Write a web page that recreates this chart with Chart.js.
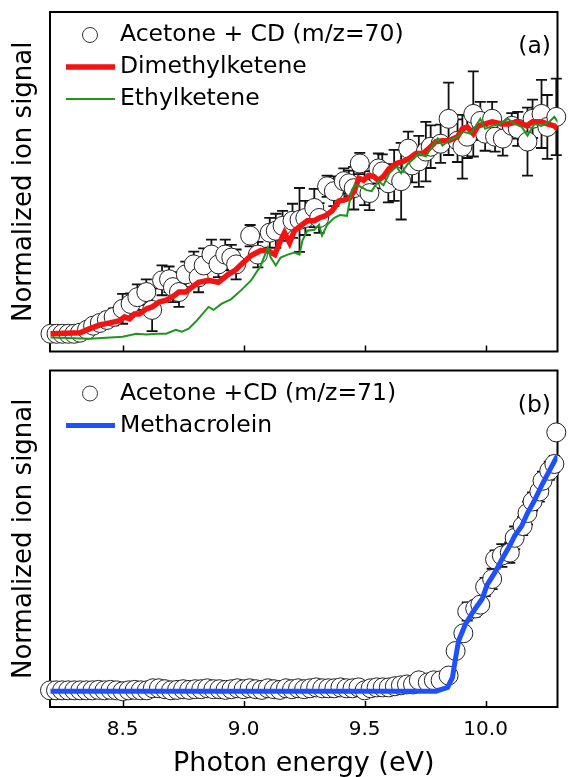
<!DOCTYPE html>
<html>
<head>
<meta charset="utf-8">
<script src="https://cdn.jsdelivr.net/npm/chart.js@4.4.1/dist/chart.umd.min.js"></script>
<style>
  html, body { margin: 0; padding: 0; background: #fff; }
  #wrap { position: relative; width: 568px; height: 777px; }
  .panel { position: absolute; left: 0; width: 568px; }
  #pa { top: 0; height: 362px; }
  #pb { top: 360px; height: 417px; }
</style>
</head>
<body>
<div id="wrap">
  <div class="panel" id="pa"><canvas id="chartA"></canvas></div>
  <div class="panel" id="pb"><canvas id="chartB"></canvas></div>
</div>
<script>
// x axis
const xTicks = [8.5, 9.0, 9.5, 10.0];

// (a) m/z=70 measurement
const energyA = [8.202, 8.227, 8.251, 8.276, 8.300, 8.324, 8.353, 8.378, 8.406, 8.435, 8.463, 8.500, 8.533, 8.561, 8.598,
  8.622, 8.663, 8.692, 8.708, 8.733, 8.761, 8.794, 8.814, 8.835, 8.867, 8.896, 8.924, 8.949, 8.969, 9.027,
  9.059, 9.108, 9.133, 9.161, 9.202, 9.231, 9.255, 9.292, 9.312, 9.345, 9.373, 9.414, 9.435, 9.455, 9.480,
  9.500, 9.520, 9.557, 9.573, 9.598, 9.622, 9.651, 9.680, 9.696, 9.724, 9.753, 9.773, 9.814, 9.847, 9.884,
  9.904, 9.924, 9.949, 9.978, 9.998, 10.027, 10.039, 10.071, 10.108, 10.133, 10.173, 10.194, 10.231, 10.255, 10.292];
const signalA = [0.009, 0.009, 0.009, 0.009, 0.009, 0.014, 0.028, 0.047, 0.060, 0.074, 0.088, 0.126, 0.149, 0.181, 0.205,
  0.121, 0.260, 0.265, 0.228, 0.205, 0.288, 0.335, 0.274, 0.330, 0.381, 0.335, 0.381, 0.367, 0.335, 0.470,
  0.381, 0.484, 0.493, 0.516, 0.540, 0.544, 0.553, 0.600, 0.553, 0.702, 0.679, 0.726, 0.716, 0.693, 0.809,
  0.693, 0.670, 0.786, 0.772, 0.716, 0.753, 0.726, 0.879, 0.800, 0.819, 0.865, 0.888, 0.902, 1.019, 0.916,
  0.888, 0.935, 1.042, 1.009, 0.949, 1.019, 0.935, 0.926, 0.986, 0.972, 0.912, 1.019, 1.042, 0.981, 1.028];
const errorA = [0.01, 0.01, 0.01, 0.01, 0.01, 0.015, 0.02, 0.025, 0.03, 0.035, 0.04, 0.07, 0.05, 0.06, 0.06,
  0.10, 0.07, 0.06, 0.07, 0.07, 0.06, 0.06, 0.07, 0.08, 0.07, 0.06, 0.07, 0.06, 0.07, 0.05,
  0.06, 0.07, 0.08, 0.07, 0.08, 0.15, 0.08, 0.09, 0.07, 0.05, 0.07, 0.06, 0.06, 0.10, 0.05,
  0.08, 0.08, 0.07, 0.08, 0.09, 0.12, 0.18, 0.08, 0.08, 0.12, 0.14, 0.10, 0.09, 0.17, 0.10,
  0.15, 0.10, 0.20, 0.09, 0.08, 0.08, 0.07, 0.08, 0.06, 0.08, 0.16, 0.09, 0.16, 0.15, 0.18];

// (a) Dimethylketene
const energyDMK = [8.202, 8.324, 8.365, 8.406, 8.447, 8.488, 8.508, 8.529, 8.549, 8.569, 8.598, 8.622, 8.651, 8.680, 8.704,
  8.733, 8.761, 8.786, 8.814, 8.855, 8.896, 8.937, 8.965, 8.990, 9.031, 9.071, 9.100, 9.129, 9.149, 9.169,
  9.190, 9.210, 9.235, 9.263, 9.292, 9.312, 9.337, 9.365, 9.394, 9.414, 9.439, 9.459, 9.476, 9.496, 9.516,
  9.537, 9.557, 9.578, 9.602, 9.631, 9.659, 9.684, 9.712, 9.741, 9.765, 9.794, 9.822, 9.847, 9.884, 9.904,
  9.924, 9.949, 9.969, 9.998, 10.027, 10.067, 10.092, 10.133, 10.169, 10.194, 10.231, 10.255, 10.284, 10.296];
const signalDMK = [0.009, 0.014, 0.033, 0.051, 0.060, 0.070, 0.088, 0.079, 0.102, 0.102, 0.126, 0.135, 0.158, 0.167, 0.181,
  0.205, 0.205, 0.228, 0.251, 0.260, 0.251, 0.288, 0.307, 0.335, 0.377, 0.400, 0.400, 0.381, 0.437, 0.484,
  0.437, 0.493, 0.516, 0.540, 0.540, 0.553, 0.563, 0.586, 0.633, 0.637, 0.647, 0.684, 0.740, 0.730, 0.753,
  0.749, 0.730, 0.749, 0.786, 0.809, 0.819, 0.833, 0.856, 0.856, 0.879, 0.912, 0.916, 0.916, 0.935, 0.972,
  0.981, 0.949, 0.986, 0.995, 1.005, 0.995, 0.995, 1.005, 0.986, 1.005, 1.005, 0.995, 0.986, 0.972];

// (a) Ethylketene
const energyEK = [8.202, 8.365, 8.500, 8.557, 8.598, 8.639, 8.680, 8.720, 8.745, 8.773, 8.802, 8.827, 8.855, 8.876, 8.908,
  8.949, 8.990, 9.031, 9.071, 9.100, 9.112, 9.133, 9.153, 9.182, 9.210, 9.231, 9.243, 9.263, 9.292, 9.312,
  9.324, 9.345, 9.373, 9.398, 9.427, 9.447, 9.459, 9.480, 9.508, 9.529, 9.557, 9.578, 9.602, 9.631, 9.651,
  9.680, 9.704, 9.724, 9.753, 9.773, 9.802, 9.822, 9.847, 9.884, 9.908, 9.937, 9.957, 9.978, 9.998, 10.027,
  10.059, 10.092, 10.120, 10.149, 10.173, 10.202, 10.231, 10.263, 10.284, 10.304];
const signalEK = [-0.009, -0.014, -0.005, 0.009, 0.005, 0.009, 0.009, 0.028, 0.019, 0.033, 0.065, 0.098, 0.135, 0.121, 0.149,
  0.172, 0.214, 0.260, 0.330, 0.414, 0.367, 0.330, 0.367, 0.381, 0.391, 0.381, 0.447, 0.493, 0.498, 0.521,
  0.470, 0.521, 0.553, 0.567, 0.563, 0.684, 0.707, 0.702, 0.684, 0.679, 0.726, 0.707, 0.763, 0.795, 0.763,
  0.809, 0.833, 0.856, 0.842, 0.879, 0.926, 0.893, 0.916, 0.935, 0.958, 0.949, 0.981, 1.019, 0.972, 0.986,
  0.995, 1.019, 0.995, 0.981, 0.940, 0.995, 0.986, 1.005, 1.028, 0.995];

// (b) m/z=71 measurement
const energyB = [8.200, 8.225, 8.250, 8.275, 8.300, 8.325, 8.350, 8.375, 8.400, 8.425, 8.450, 8.475, 8.500, 8.525, 8.550,
  8.575, 8.600, 8.625, 8.650, 8.675, 8.700, 8.725, 8.750, 8.775, 8.800, 8.825, 8.850, 8.875, 8.900, 8.925,
  8.950, 8.975, 9.000, 9.025, 9.050, 9.075, 9.100, 9.125, 9.150, 9.175, 9.200, 9.225, 9.250, 9.275, 9.300,
  9.325, 9.350, 9.375, 9.400, 9.425, 9.450, 9.475, 9.500, 9.525, 9.550, 9.575, 9.600, 9.625, 9.650, 9.675,
  9.700, 9.724, 9.761, 9.786, 9.814, 9.847, 9.876, 9.908, 9.924, 9.957, 9.978, 9.998, 10.027, 10.039, 10.067,
  10.100, 10.120, 10.153, 10.173, 10.194, 10.222, 10.235, 10.263, 10.284, 10.292];
const signalB = [0.004, 0.004, 0.004, 0.004, 0.004, 0.004, 0.004, 0.004, 0.006, 0.004, 0.006, 0.004, 0.000, 0.004, 0.006,
  0.004, 0.004, 0.013, 0.013, 0.009, 0.004, 0.006, 0.009, 0.006, 0.009, 0.009, 0.013, 0.009, 0.009, 0.006,
  0.009, 0.013, 0.009, 0.013, 0.009, 0.006, 0.013, 0.009, 0.006, 0.013, 0.009, 0.013, 0.009, 0.013, 0.017,
  0.013, 0.013, 0.013, 0.017, 0.013, 0.013, 0.017, 0.004, 0.013, 0.017, 0.017, 0.017, 0.022, 0.026, 0.030,
  0.030, 0.048, 0.039, 0.048, 0.048, 0.069, 0.177, 0.255, 0.351, 0.364, 0.381, 0.459, 0.494, 0.580, 0.597,
  0.610, 0.675, 0.727, 0.784, 0.835, 0.879, 0.926, 0.970, 1.000, 1.139];
const errorB = [0, 0, 0, 0, 0, 0, 0, 0, 0, 0, 0, 0, 0, 0, 0,
  0, 0, 0, 0, 0, 0, 0, 0, 0, 0, 0, 0, 0, 0, 0,
  0, 0, 0, 0, 0, 0, 0, 0, 0, 0, 0, 0, 0, 0, 0,
  0, 0, 0, 0, 0, 0, 0, 0, 0, 0, 0, 0, 0, 0, 0,
  0, 0.01, 0.01, 0.01, 0.01, 0.015, 0.02, 0.03, 0.04, 0.035, 0.03, 0.04, 0.045, 0.04, 0.05,
  0.045, 0.05, 0.04, 0.05, 0.04, 0.045, 0.04, 0.04, 0.035, 0];

// (b) Methacrolein
const energyMA = [8.202, 9.794, 9.843, 9.863, 9.876, 9.888, 9.916, 9.949, 9.986, 10.006, 10.039, 10.067, 10.100, 10.120,
  10.149, 10.173, 10.202, 10.235, 10.263, 10.296];
const signalMA = [0, 0, 0.017, 0.061, 0.147, 0.221, 0.294, 0.351, 0.407, 0.468, 0.524, 0.580, 0.641, 0.684,
  0.727, 0.784, 0.840, 0.913, 0.970, 1.035];

const FONT = "'DejaVu Sans', sans-serif";
Chart.defaults.font.family = FONT;
Chart.defaults.color = '#000';

function toPoints(xs, ys) {
    return xs.map((x, i) => ({ x: x, y: ys[i] }));
}

// ramka, znaczniki osi, słupki błędów (pod punktami)
const panelPlugin = {
    id: 'panel',
    beforeDatasetsDraw(chart) {
        const ctx = chart.ctx;
        const area = chart.chartArea;
        const xs = chart.scales.x, ys = chart.scales.y;
        ctx.save();
        ctx.strokeStyle = '#000';
        ctx.lineWidth = 2;
        ctx.strokeRect(area.left, area.top, area.right - area.left, area.bottom - area.top);
        ctx.lineWidth = 1.5;
        ctx.beginPath();
        xTicks.forEach(v => {
            const px = Math.round(xs.getPixelForValue(v)) + 0.5;
            ctx.moveTo(px, area.bottom);
            ctx.lineTo(px, area.bottom - 6);
        });
        ctx.stroke();

        ctx.lineWidth = 1.8;
        ctx.strokeStyle = '#111';
        ctx.beginPath();
        chart.data.datasets.forEach((ds, i) => {
            if (!ds.errorBars) return;
            const meta = chart.getDatasetMeta(i);
            ds.data.forEach((p, j) => {
                const e = ds.errorBars[j];
                if (!e) return;
                const px = meta.data[j].x;
                const y1 = ys.getPixelForValue(p.y + e);
                const y2 = ys.getPixelForValue(p.y - e);
                ctx.moveTo(px, y1); ctx.lineTo(px, y2);
                ctx.moveTo(px - 5.5, y1); ctx.lineTo(px + 5.5, y1);
                ctx.moveTo(px - 5.5, y2); ctx.lineTo(px + 5.5, y2);
            });
        });
        ctx.stroke();
        ctx.restore();
    },
    afterDatasetsDraw(chart, args, opts) {
        const ctx = chart.ctx;
        const area = chart.chartArea;
        ctx.save();
        ctx.font = '23.5px ' + FONT;
        ctx.fillStyle = '#000';
        ctx.textBaseline = 'middle';
        ctx.textAlign = 'left';
        chart.data.datasets.forEach((ds, i) => {
            const y = area.top + 23 + i * 32;
            if (ds.showLine) {
                ctx.strokeStyle = ds.borderColor;
                ctx.lineWidth = ds.borderWidth;
                ctx.beginPath();
                ctx.moveTo(66, y);
                ctx.lineTo(115, y);
                ctx.stroke();
            } else {
                ctx.strokeStyle = '#333';
                ctx.lineWidth = 1;
                ctx.beginPath();
                ctx.arc(90, y, 7.5, 0, Math.PI * 2);
                ctx.stroke();
            }
            ctx.fillText(ds.label, 120, y);
        });
        ctx.textAlign = 'right';
        ctx.fillText(opts.tag, 551, area.top + 35);
        ctx.restore();
    }
};

function circleSet(label, xs, ys, errs) {
    return {
        label: label,
        data: toPoints(xs, ys),
        errorBars: errs,
        showLine: false,
        pointRadius: 9.5,
        pointBorderWidth: 1,
        pointBorderColor: '#222',
        pointBackgroundColor: '#fff',
        clip: false,
        order: 3
    };
}

function lineSet(label, xs, ys, color, width, order) {
    return {
        label: label,
        data: toPoints(xs, ys),
        showLine: true,
        borderColor: color,
        borderWidth: width,
        pointRadius: 0,
        tension: 0,
        order: order
    };
}

function yAxis(min, max) {
    return {
        type: 'linear', min: min, max: max,
        grid: { display: false }, border: { display: false },
        ticks: { display: false },
        title: { display: true, text: 'Normalized ion signal', font: { size: 26 }, padding: { top: 9, bottom: 0 } },
        afterFit(s) { s.width = 50; }
    };
}

new Chart(document.getElementById('chartA'), {
    type: 'scatter',
    data: {
        datasets: [
            circleSet('Acetone + CD (m/z=70)', energyA, signalA, errorA),
            lineSet('Dimethylketene', energyDMK, signalDMK, '#f51212', 5.5, 2),
            lineSet('Ethylketene', energyEK, signalEK, '#1e961e', 2, 1)
        ]
    },
    options: {
        responsive: true, maintainAspectRatio: false, animation: false,
        layout: { padding: { top: 12, right: 5, bottom: 7, left: 0 } },
        plugins: { legend: { display: false }, tooltip: { enabled: false }, panel: { tag: '(a)' } },
        scales: {
            x: { type: 'linear', min: 8.2, max: 10.297, display: false },
            y: yAxis(-0.0744, 1.521)
        }
    },
    plugins: [panelPlugin]
});

new Chart(document.getElementById('chartB'), {
    type: 'scatter',
    data: {
        datasets: [
            circleSet('Acetone +CD (m/z=71)', energyB, signalB, errorB),
            lineSet('Methacrolein', energyMA, signalMA, '#1f50ff', 5, 1)
        ]
    },
    options: {
        responsive: true, maintainAspectRatio: false, animation: false,
        layout: { padding: { top: 5, right: 5, bottom: 0, left: 0 } },
        plugins: { legend: { display: false }, tooltip: { enabled: false }, panel: { tag: '(b)' } },
        scales: {
            x: {
                type: 'linear', min: 8.2, max: 10.297,
                grid: { display: false, drawTicks: false }, border: { display: false },
                afterBuildTicks(s) { s.ticks = xTicks.map(v => ({ value: v })); },
                ticks: { font: { size: 20 }, padding: 11, callback: v => v.toFixed(1) },
                title: { display: true, text: 'Photon energy (eV)', font: { size: 27, lineHeight: 1 }, padding: 0 },
                afterFit(s) { s.height = 70; }
            },
            y: yAxis(-0.0693, 1.4113)
        }
    },
    plugins: [panelPlugin]
});
</script>
</body>
</html>
